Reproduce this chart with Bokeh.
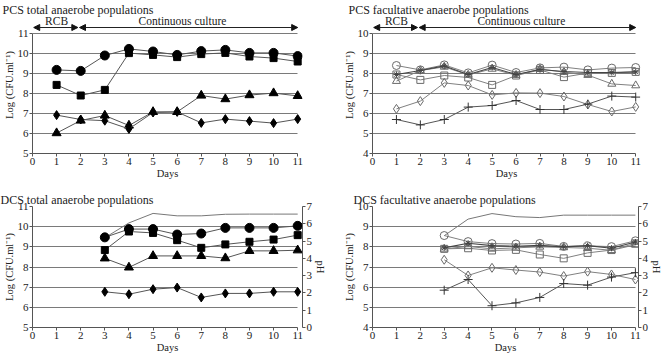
from bokeh.plotting import figure
from bokeh.layouts import column, row
from bokeh.models import Range1d, LinearAxis, FixedTicker, Arrow, NormalHead
from bokeh.core.properties import value
from bokeh.embed import file_html
from bokeh.resources import INLINE

# ---------------- data ----------------
days_pcs = [1, 2, 3, 4, 5, 6, 7, 8, 9, 10, 11]
days_dcs = [3, 4, 5, 6, 7, 8, 9, 10, 11]
day_ticks = [0, 1, 2, 3, 4, 5, 6, 7, 8, 9, 10, 11]
ph_ticks = [0, 1, 2, 3, 4, 5, 6, 7]

# PCS total anaerobe populations
pcs_tot_circle = [9.18, 9.13, 9.9, 10.23, 10.1, 9.93, 10.12, 10.18, 10.03, 10.03, 9.87]
pcs_tot_square = [8.43, 7.9, 8.18, 10.02, 9.93, 9.82, 9.97, 10.03, 9.85, 9.77, 9.6]
pcs_tot_triangle = [6.02, 6.65, 6.9, 6.4, 7.08, 7.08, 7.9, 7.72, 7.92, 8.02, 7.88]
pcs_tot_diamond = [6.92, 6.7, 6.64, 6.23, 7.05, 7.08, 6.53, 6.72, 6.62, 6.52, 6.72]

# PCS facultative anaerobe populations
pcs_fac_circle = [8.4, 8.18, 8.43, 8.03, 8.42, 8.05, 8.28, 8.32, 8.18, 8.27, 8.3]
pcs_fac_square = [7.95, 7.68, 7.9, 7.8, 7.43, 7.9, 8.18, 7.82, 8.02, 8.03, 8.08]
pcs_fac_triangle = [7.62, 8.15, 8.33, 7.93, 8.23, 7.92, 8.22, 8.07, 7.92, 7.48, 7.4]
pcs_fac_star = [7.95, 8.15, 8.38, 7.95, 8.3, 7.95, 8.2, 8.1, 8.05, 8.05, 8.08]
pcs_fac_diamond = [6.23, 6.62, 7.53, 7.4, 6.93, 7.03, 7.02, 6.85, 6.45, 6.1, 6.33]
pcs_fac_plus = [5.7, 5.43, 5.7, 6.32, 6.4, 6.65, 6.2, 6.2, 6.47, 6.87, 6.82]

# DCS total anaerobe populations
dcs_tot_circle = [9.47, 9.88, 9.88, 9.61, 9.66, 9.94, 9.94, 9.94, 10.04]
dcs_tot_square = [8.84, 9.76, 9.69, 9.33, 8.95, 9.12, 9.25, 9.36, 9.58]
dcs_tot_triangle = [8.43, 7.98, 8.55, 8.55, 8.55, 8.44, 8.8, 8.8, 8.83]
dcs_tot_diamond = [6.77, 6.65, 6.9, 6.98, 6.49, 6.69, 6.69, 6.77, 6.77]
dcs_tot_ph = [5.19, 6.05, 6.6, 6.46, 6.46, 6.55, 6.56, 6.56, 6.56]

# DCS facultative anaerobe populations
dcs_fac_circle = [8.56, 8.26, 8.16, 8.14, 8.17, 8.02, 8.05, 8.01, 8.3]
dcs_fac_square = [7.9, 7.93, 7.82, 7.85, 7.62, 7.43, 7.7, 7.84, 8.17]
dcs_fac_triangle = [7.9, 8.02, 7.9, 7.95, 8.0, 7.97, 7.93, 7.83, 8.1]
dcs_fac_star = [7.95, 8.18, 8.06, 8.03, 8.07, 8.0, 8.06, 7.93, 8.24]
dcs_fac_diamond = [7.36, 6.58, 6.96, 6.85, 6.75, 6.55, 6.77, 6.63, 6.38]
dcs_fac_plus = [5.85, 6.38, 5.08, 5.22, 5.49, 6.18, 6.1, 6.5, 6.72]
dcs_fac_ph = [5.31, 6.27, 6.59, 6.41, 6.36, 6.5, 6.5, 6.5, 6.5]

phases = ["RCB", "Continuous culture"]
phase_bounds = [(0.05, 1.88), (1.95, 11.0)]
phase_label_x = [1.0, 6.22]

SERIF = "Liberation Serif"

# ---------------- helpers ----------------
def make_panel(title, ylo, yhi, xend, frame_w, frame_h, extra_top, min_left, min_right,
               min_top, title_offset, ph=False):
    yend = yhi + extra_top
    p = figure(frame_width=frame_w, frame_height=frame_h,
               x_range=Range1d(0, xend), y_range=Range1d(ylo, yend),
               output_backend="svg", toolbar_location=None,
               min_border_left=min_left, min_border_right=min_right,
               min_border_top=min_top, min_border_bottom=0, title=title)
    p.outline_line_color = None
    p.title.align = "left"
    p.title.offset = title_offset
    p.title.standoff = 0
    p.title.text_font = SERIF
    p.title.text_font_size = "12px"
    p.title.text_font_style = "normal"
    p.title.text_color = "#222222"

    p.xaxis.ticker = FixedTicker(ticks=day_ticks)
    p.xaxis.bounds = (0, 11)
    p.xaxis.axis_label = "Days"
    p.yaxis.ticker = FixedTicker(ticks=list(range(ylo, yhi + 1)))
    p.yaxis.bounds = (ylo, yhi)
    p.yaxis.axis_label = "Log (CFU.ml\u207b\u00b9)"
    axes = [p.xaxis[0], p.yaxis[0]]
    if ph:
        p.extra_y_ranges = {"ph": Range1d(0, 7 * (yend - ylo) / (yhi - ylo))}
        rax = LinearAxis(y_range_name="ph", axis_label="pH",
                         ticker=FixedTicker(ticks=ph_ticks), bounds=(0, 7))
        p.add_layout(rax, "right")
        axes.append(rax)
    for ax in axes:
        ax.axis_line_color = "#555555"
        ax.major_tick_line_color = "#555555"
        ax.major_tick_out = 3
        ax.major_tick_in = 0
        ax.minor_tick_line_color = None
        ax.major_label_text_font = SERIF
        ax.major_label_text_font_size = "11px"
        ax.major_label_text_color = "#222222"
        ax.major_label_standoff = 1
        ax.axis_label_text_font = SERIF
        ax.axis_label_text_font_size = "10.5px"
        ax.axis_label_text_font_style = "normal"
        ax.axis_label_text_color = "#222222"
        ax.axis_label_standoff = 0
    p.xgrid.visible = False
    p.ygrid.grid_line_color = "#7a7a7a"
    p.ygrid.grid_line_width = 1.2
    try:
        p.ygrid.cross_bounds = (0, 11)
    except Exception:
        pass
    return p


def add_phase_arrows(p, yhi):
    for (a, b) in phase_bounds:
        p.add_layout(Arrow(x_start=a, x_end=b, y_start=yhi + 0.3, y_end=yhi + 0.3,
                           line_color="#222222", line_width=1,
                           start=NormalHead(size=6, fill_color="#111111", line_color="#111111"),
                           end=NormalHead(size=6, fill_color="#111111", line_color="#111111")))
    p.text(x=phase_label_x, y=[yhi + 0.64] * len(phases), text=phases,
           text_font=value(SERIF), text_font_size="11.5px", text_color="#222222",
           text_align="center", text_baseline="middle")


def add_series(p, days, vals, marker, size, fill, mline, lcolor, lw=1.0):
    p.line(days, vals, line_color=lcolor, line_width=lw)
    p.scatter(days, vals, marker=marker, size=size, fill_color=fill,
              line_color=mline, line_width=1.0)


# ---------------- panels ----------------
p1 = make_panel("PCS total anaerobe populations", 5, 11, 11.2, 270, 137, 0.85, 30, 31, 0, -30)
add_phase_arrows(p1, 11)
add_series(p1, days_pcs, pcs_tot_circle, "circle", 9, "black", "black", "#555555")
add_series(p1, days_pcs, pcs_tot_square, "square", 7, "black", "black", "#555555")
add_series(p1, days_pcs, pcs_tot_triangle, "triangle", 9, "black", "black", "#555555")
add_series(p1, days_pcs, pcs_tot_diamond, "diamond", 9, "black", "black", "#555555")

p2 = make_panel("PCS facultative anaerobe populations", 4, 10, 11.2, 268, 137, 0.85, 39, 26, 0, -24)
add_phase_arrows(p2, 10)
GR = "#6a6a6a"
add_series(p2, days_pcs, pcs_fac_circle, "circle", 8, None, GR, "#808080")
add_series(p2, days_pcs, pcs_fac_square, "square", 7, None, GR, "#808080")
add_series(p2, days_pcs, pcs_fac_triangle, "triangle", 8, None, GR, "#808080")
add_series(p2, days_pcs, pcs_fac_star, "asterisk", 6, None, "#444444", "#444444", 1.1)
add_series(p2, days_pcs, pcs_fac_diamond, "diamond", 9, None, GR, "#808080")
add_series(p2, days_pcs, pcs_fac_plus, "cross", 9, None, "#333333", "#555555")

p3 = make_panel("DCS total anaerobe populations", 5, 11, 11.2, 270, 121, 0.0, 30, 31, 25, -32, ph=True)
p3.line(days_dcs, dcs_tot_ph, line_color="#777777", line_width=1, y_range_name="ph")
add_series(p3, days_dcs, dcs_tot_circle, "circle", 9, "black", "black", "#555555")
add_series(p3, days_dcs, dcs_tot_square, "square", 7, "black", "black", "#555555")
add_series(p3, days_dcs, dcs_tot_triangle, "triangle", 9, "black", "black", "#555555")
add_series(p3, days_dcs, dcs_tot_diamond, "diamond", 9, "black", "black", "#555555")

p4 = make_panel("DCS facultative anaerobe populations", 4, 10, 11.13, 266, 121, 0.0, 39, 26, 25, -19, ph=True)
p4.line(days_dcs, dcs_fac_ph, line_color="#777777", line_width=1, y_range_name="ph")
add_series(p4, days_dcs, dcs_fac_circle, "circle", 8, None, GR, "#808080")
add_series(p4, days_dcs, dcs_fac_square, "square", 7, None, GR, "#808080")
add_series(p4, days_dcs, dcs_fac_triangle, "triangle", 8, None, GR, "#808080")
add_series(p4, days_dcs, dcs_fac_star, "asterisk", 6, None, "#444444", "#444444", 1.1)
add_series(p4, days_dcs, dcs_fac_diamond, "diamond", 9, None, GR, "#808080")
add_series(p4, days_dcs, dcs_fac_plus, "cross", 9, None, "#333333", "#555555")

layout = column(row(p1, p2), row(p3, p4))
open("out.html", "w").write(file_html(layout, INLINE))
